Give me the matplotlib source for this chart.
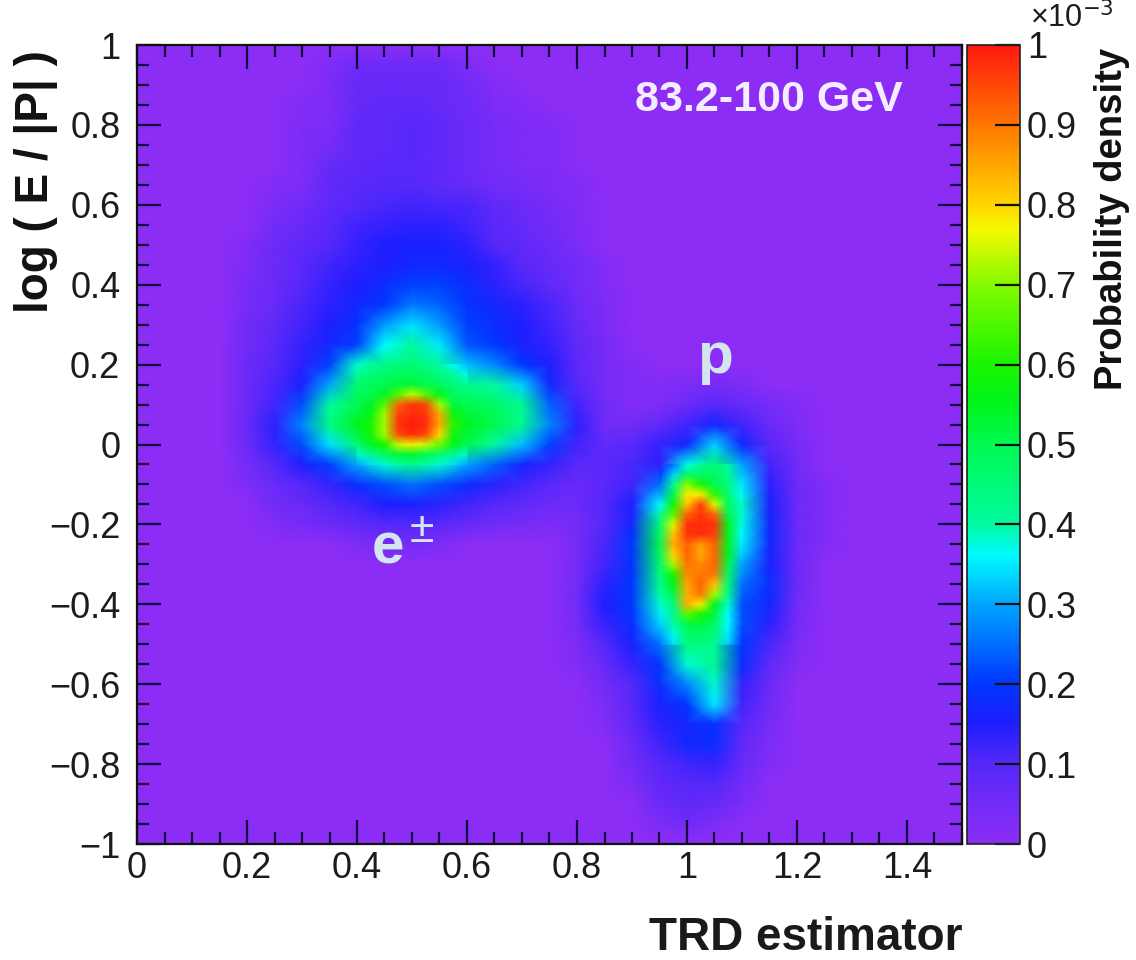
import numpy as np
import matplotlib
matplotlib.use("Agg")
import matplotlib.pyplot as plt
from matplotlib.colors import LinearSegmentedColormap

plt.rcParams['font.family'] = ['Liberation Sans', 'DejaVu Sans']

# Probability density in units of 1e-5
x_centers = [0.15,0.2,0.25,0.3,0.35,0.4,0.45,0.5,0.55,0.6,0.65,0.7,0.75,0.8,0.85,0.9,0.95,1.0,1.05,1.1,1.15,1.2,1.25,1.3]
y_centers = [1.0 - 0.05*i for i in range(41)]
density = [
[0]*24,
[0,0,0,0,2,6,6,6,6,3,0,0,0,0,0,0,0,0,0,0,0,0,0,0],
[0,0,0,0,3,7,7,7,7,5,2,0,0,0,0,0,0,0,0,0,0,0,0,0],
[0,0,0,2,3,7,8,8,7,6,3,2,0,0,0,0,0,0,0,0,0,0,0,0],
[0,0,0,3,3,8,8,10,8,6,4,3,2,0,0,0,0,0,0,0,0,0,0,0],
[0,0,0,3,4,8,8,10,8,6,4,3,3,0,0,0,0,0,0,0,0,0,0,0],
[0,0,0,3,7,8,9,9,8,6,4,3,3,0,0,0,0,0,0,0,0,0,0,0],
[0,0,2,3,8,9,10,10,8,7,5,4,3,2,0,0,0,0,0,0,0,0,0,0],
[0,0,3,5,8,10,11,12,11,11,8,6,4,2,0,0,0,0,0,0,0,0,0,0],
[0,0,5,7,9,12,13,14,14,12,9,7,5,3,0,0,0,0,0,0,0,0,0,0],
[0,2,6,8,10,13,15,16,16,14,10,8,6,3,0,0,0,0,0,0,0,0,0,0],
[0,3,6,9,12,14,15,17,17,16,13,9,7,5,2,0,0,0,0,0,0,0,0,0],
[0,4,6,10,13,15,18,21,21,18,14,11,8,5,2,0,0,0,0,0,0,0,0,0],
[0,4,7,11,14,17,20,26,24,19,17,14,11,6,3,0,0,0,0,0,0,0,0,0],
[0,5,8,12,15,19,29,34,29,21,18,15,12,7,3,0,0,0,0,0,0,0,0,0],
[0,5,9,13,17,21,36,40,35,23,20,16,13,8,4,0,0,0,0,0,0,0,0,0],
[0,6,10,14,21,38,43,46,40,32,27,20,15,8,4,2,0,0,0,0,0,0,0,0],
[0,6,11,16,30,46,50,52,48,42,40,33,17,10,4,2,2,3,4,3,0,0,0,0],
[0,6,12,22,40,50,62,95,72,50,48,42,24,12,5,2,3,6,9,7,4,2,0,0],
[0,7,14,27,44,55,72,100,85,55,50,42,27,14,5,5,8,12,17,12,6,3,0,0],
[0,6,13,22,34,46,60,76,68,50,40,32,21,12,8,9,13,17,33,17,9,4,0,0],
[0,4,10,15,21,30,38,42,38,30,24,17,13,9,9,11,14,37,45,30,12,5,0,0],
[0,3,7,10,13,18,22,25,22,18,14,12,9,7,9,12,25,70,50,35,14,6,2,0],
[0,0,5,7,10,12,15,16,14,12,10,8,6,6,10,15,36,82,75,38,16,6,2,0],
[0,0,2,4,6,8,10,10,9,7,5,4,3,5,10,17,46,97,97,37,17,6,2,0],
[0,0,0,0,0,3,4,4,3,0,0,0,0,4,11,20,50,92,92,35,17,6,2,0],
[0,0,0,0,0,0,0,0,0,0,0,0,0,4,12,19,46,90,92,30,16,6,0,0],
[0,0,0,0,0,0,0,0,0,0,0,0,0,5,14,20,42,85,82,25,18,6,0,0],
[0,0,0,0,0,0,0,0,0,0,0,0,0,5,15,20,38,84,55,22,17,5,0,0],
[0,0,0,0,0,0,0,0,0,0,0,0,0,4,13,18,33,50,48,22,14,4,0,0],
[0,0,0,0,0,0,0,0,0,0,0,0,0,3,10,16,25,44,42,20,11,3,0,0],
[0,0,0,0,0,0,0,0,0,0,0,0,0,2,7,13,20,38,42,18,8,2,0,0],
[0,0,0,0,0,0,0,0,0,0,0,0,0,0,5,10,18,27,38,13,6,0,0,0],
[0,0,0,0,0,0,0,0,0,0,0,0,0,0,3,9,16,20,35,12,5,0,0,0],
[0,0,0,0,0,0,0,0,0,0,0,0,0,0,2,8,14,17,19,10,4,0,0,0],
[0,0,0,0,0,0,0,0,0,0,0,0,0,0,0,6,12,17,18,8,3,0,0,0],
[0,0,0,0,0,0,0,0,0,0,0,0,0,0,0,5,10,12,13,7,2,0,0,0],
[0,0,0,0,0,0,0,0,0,0,0,0,0,0,0,3,8,10,10,5,0,0,0,0],
[0,0,0,0,0,0,0,0,0,0,0,0,0,0,0,0,6,8,7,3,0,0,0,0],
[0,0,0,0,0,0,0,0,0,0,0,0,0,0,0,0,3,5,3,0,0,0,0,0],
[0]*24,
]

# Finer readings around the electron peak
e_x = [0.4,0.425,0.45,0.475,0.5,0.525,0.55,0.575,0.6]
e_y = [0.2 - 0.025*i for i in range(11)]
e_density = [
[38,41,43,45,46,43,40,36,32],
[42,45,47,48,49,47,44,41,37],
[46,48,50,52,52,50,48,45,42],
[48,50,54,66,74,66,56,48,46],
[50,54,66,92,97,95,72,52,50],
[52,56,72,96,98,97,85,58,52],
[55,60,72,97,100,98,85,62,55],
[52,58,72,95,98,95,80,58,52],
[46,54,60,74,78,74,68,55,50],
[38,42,48,52,54,50,46,42,38],
[30,34,38,40,42,40,38,34,30],
]

# Finer readings around the proton peak
p_x = [0.95,0.975,1.0,1.025,1.05,1.075,1.1]
p_y = [-0.05 - 0.025*i for i in range(19)]
p_density = [
[14,25,37,42,45,40,30],
[20,33,48,47,47,42,32],
[25,42,70,60,50,44,35],
[30,50,78,78,62,46,36],
[36,58,82,96,75,48,38],
[42,66,92,97,92,50,38],
[46,75,97,98,97,55,37],
[48,82,97,98,96,55,36],
[50,84,92,86,92,55,35],
[48,80,92,84,92,55,33],
[46,72,90,88,92,50,30],
[44,60,88,90,90,48,28],
[42,55,85,92,82,45,25],
[40,50,84,90,72,42,24],
[38,44,84,78,55,38,22],
[35,42,66,60,52,36,22],
[33,40,50,52,48,36,22],
[29,37,47,48,45,35,21],
[25,34,44,45,42,33,20],
]

x_ticks = [0, 0.2, 0.4, 0.6, 0.8, 1.0, 1.2, 1.4]
x_labels = ['0', '0.2', '0.4', '0.6', '0.8', '1', '1.2', '1.4']
y_ticks = [-1, -0.8, -0.6, -0.4, -0.2, 0, 0.2, 0.4, 0.6, 0.8, 1]
y_labels = ['\u22121', '\u22120.8', '\u22120.6', '\u22120.4', '\u22120.2', '0', '0.2', '0.4', '0.6', '0.8', '1']
z_ticks = [0, 0.1, 0.2, 0.3, 0.4, 0.5, 0.6, 0.7, 0.8, 0.9, 1.0]
z_labels = ['0', '0.1', '0.2', '0.3', '0.4', '0.5', '0.6', '0.7', '0.8', '0.9', '1']

cmap = LinearSegmentedColormap.from_list('rootlike', [
    (0.00, (140/255, 45/255, 245/255)),
    (0.10, (85/255, 40/255, 250/255)),
    (0.15, (30/255, 30/255, 255/255)),
    (0.20, (0/255, 55/255, 255/255)),
    (0.30, (0/255, 165/255, 255/255)),
    (0.36, (0/255, 250/255, 255/255)),
    (0.40, (0/255, 250/255, 160/255)),
    (0.50, (0/255, 250/255, 80/255)),
    (0.55, (0/255, 245/255, 30/255)),
    (0.60, (25/255, 245/255, 0/255)),
    (0.70, (130/255, 250/255, 0/255)),
    (0.77, (245/255, 250/255, 0/255)),
    (0.80, (255/255, 215/255, 0/255)),
    (0.90, (255/255, 120/255, 0/255)),
    (1.00, (255/255, 25/255, 15/255)),
])

W, H = 1136, 960
fig = plt.figure(figsize=(W/100, H/100), dpi=100, facecolor='white')
ax = fig.add_axes([137/W, 1-844/H, (962-137)/W, (844-45)/H])
cax = fig.add_axes([967/W, 1-844/H, (1020-967)/W, (844-45)/H])

ax.set_facecolor(cmap(0.0))
im = None
for xs, ys, vals in [(x_centers, y_centers, density), (e_x, e_y, e_density), (p_x, p_y, p_density)]:
    m = ax.pcolormesh(xs, ys, np.array(vals) / 100.0, cmap=cmap, vmin=0, vmax=1,
                      shading='gouraud', rasterized=True)
    im = im or m
ax.set_xlim(0, 1.5)
ax.set_ylim(-1, 1)

ink = '#1c1c1c'
ax.set_xticks(x_ticks, x_labels)
ax.set_yticks(y_ticks, y_labels)
ax.set_xticks(np.arange(0, 1.501, 0.05), minor=True)
ax.set_yticks(np.arange(-1, 1.001, 0.05), minor=True)
ax.tick_params(which='major', direction='in', length=17, width=1.6, top=True, right=True,
               labelsize=26, color='#12063a', labelcolor=ink)
ax.tick_params(which='minor', direction='in', length=8.5, width=1.6, top=True, right=True, color='#12063a')
ax.tick_params(axis='x', which='major', pad=5)
ax.tick_params(axis='y', which='major', pad=12)
for s in ax.spines.values():
    s.set_linewidth(1.6)
    s.set_color('#111111')

cb = fig.colorbar(im, cax=cax)
cb.set_ticks(z_ticks, labels=z_labels)
cb.ax.tick_params(which='major', direction='in', length=18, width=1.6, right=True, left=False,
                  labelsize=26, color='#111111', labelcolor=ink, pad=5)
cb.ax.minorticks_off()
cb.outline.set_linewidth(1.2)
cb.outline.set_edgecolor('#222222')
fig.text(1030/W, 1-18/H, '\u00d710$^{-3}$', fontsize=22, color=ink, ha='left', va='center')

fig.text(36/W, 1-182/H, 'log ( E / |P| )', rotation=90, fontsize=33, fontweight='bold',
         color='#111111', ha='center', va='center')
fig.text(806/W, 1-938/H, 'TRD estimator', fontsize=33, fontweight='bold',
         color='#1a1a1a', ha='center', va='center')
fig.text(1112/W, 1-219/H, 'Probability density', rotation=90, fontsize=27.5, fontweight='bold',
         color='#111111', ha='center', va='center')
fig.text(769/W, 1-100/H, '83.2-100 GeV', fontsize=31, fontweight='bold', color='#f4ecff',
         ha='center', va='center')
fig.text(388/W, 1-549/H, 'e', fontsize=42, fontweight='bold', color='#d3e6ee', ha='center', va='center')
fig.text(422/W, 1-530/H, '\u00b1', fontsize=32, color='#d3e6ee', ha='center', va='center')
fig.text(715/W, 1-358/H, 'p', fontsize=42, fontweight='bold', color='#d3e6ee', ha='center', va='center')

fig.savefig('out.png', dpi=100)
